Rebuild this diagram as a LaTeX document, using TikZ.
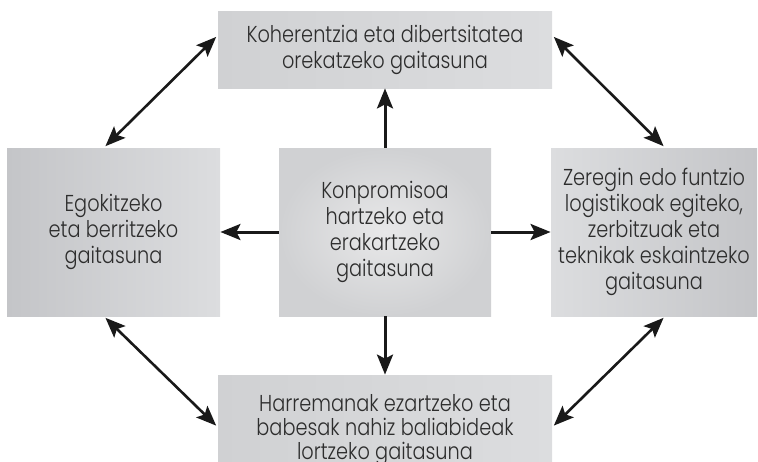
\documentclass[tikz,border=0pt]{standalone}
\usepackage{fontspec}
\setmainfont{Poppins Light}[FakeStretch=0.84]
\usetikzlibrary{positioning,arrows.meta}

\definecolor{boxdark}{RGB}{196,197,200}
\definecolor{boxmid}{RGB}{208,209,211}
\definecolor{boxlight}{RGB}{220,221,223}
\definecolor{boxcore}{RGB}{232,232,233}
\definecolor{txtgray}{RGB}{45,45,45}
\definecolor{arrgray}{RGB}{25,25,25}

\tikzset{
  box/.style={align=center, text=txtgray, inner sep=0pt,
    font=\fontsize{11.5}{13}\selectfont},
  arr/.style={-{Stealth[length=10pt,width=8pt,inset=2pt]}, line width=1.5pt, draw=arrgray},
  darr/.style={{Stealth[length=10pt,width=8pt,inset=2pt]}-{Stealth[length=10pt,width=8pt,inset=2pt]},
    line width=1.3pt, draw=arrgray, shorten >=1pt, shorten <=1pt}
}

\begin{document}
\begin{tikzpicture}[x=0.5pt,y=-0.5pt]
\useasboundingbox (0,0) rectangle (758,461);
% Nodes
\node[box, minimum width=167pt, minimum height=38.5pt, left color=boxmid, right color=boxlight]
  (top) at (385,49.5) {Koherentzia eta dibertsitatea\\orekatzeko gaitasuna};
\node[box, minimum width=106.5pt, minimum height=84pt, left color=boxdark, right color=boxlight]
  (lft) at (113.5,232) {Egokitzeko\\eta berritzeko\\gaitasuna};
\node[box, minimum width=106pt, minimum height=84pt, shading=radial, inner color=boxcore, outer color=boxmid]
  (cen) at (385,232) {Konpromisoa\\hartzeko eta\\erakartzeko\\gaitasuna};
\node[box, minimum width=103pt, minimum height=84pt, left color=boxlight, right color=boxdark]
  (rgt) at (654,232) {Zeregin edo funtzio\\logistikoak egiteko,\\zerbitzuak eta\\teknikak eskaintzeko\\gaitasuna};
\node[box, minimum width=167pt, minimum height=55pt, left color=boxmid, right color=boxlight,
  font=\fontsize{11.5}{12}\selectfont]
  (bot) at (385,430) {Harremanak ezartzeko eta\\babesak nahiz baliabideak\\lortzeko gaitasuna};
% Arrows
\draw[arr] (cen.north) -- (top.south);
\draw[arr] (cen.south) -- (bot.north);
\draw[arr] (cen.west) -- (lft.east);
\draw[arr] (cen.east) -- (rgt.west);
\draw[darr] ([xshift=-4.75pt]lft.north) -- ([yshift=7pt]top.west);
\draw[darr] ([yshift=7pt]top.east) -- ([xshift=5.5pt]rgt.north);
\draw[darr] ([xshift=-4.75pt]lft.south) -- ([yshift=1.5pt]bot.west);
\draw[darr] ([xshift=5.5pt]rgt.south) -- ([yshift=1.5pt]bot.east);
\end{tikzpicture}
\end{document}
